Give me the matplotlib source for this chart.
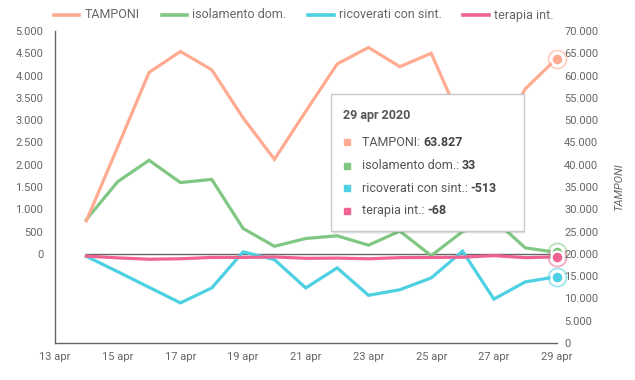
import matplotlib
matplotlib.use('Agg')
import matplotlib.pyplot as plt
from matplotlib.patches import Rectangle
from matplotlib.lines import Line2D
from matplotlib.ticker import FuncFormatter

plt.rcParams['font.family'] = ['Roboto', 'DejaVu Sans']

# ---- data ----
days = list(range(14, 30))
tick_days = [13, 15, 17, 19, 21, 23, 25, 27, 29]
tick_labels = ['13 apr', '15 apr', '17 apr', '19 apr', '21 apr', '23 apr', '25 apr', '27 apr', '29 apr']
tamponi = [27400, 44000, 60700, 65400, 61300, 50500, 41200, 52000, 62600, 66300,
           62000, 65000, 49000, 44000, 57000, 63827]
isolamento = [770, 1620, 2100, 1600, 1670, 570, 170, 345, 405, 195, 510, -40, 500, 770, 135, 33]
ricoverati = [-55, -400, -750, -1100, -765, 45, -130, -765, -315, -930, -805, -540, 60, -1015, -630, -513]
terapia = [-50, -90, -120, -110, -80, -80, -70, -100, -95, -110, -85, -80, -75, -40, -85, -68]
zero_line = [0] * len(days)

series_names = ['TAMPONI', 'isolamento dom.', 'ricoverati con sint.', 'terapia int.']
colors = ['#FFAB91', '#81C784', '#4DD0E1', '#F06292']
tooltip_title = '29 apr 2020'
tooltip_values = ['63.827', '33', '-513', '-68']

W, H = 635, 380
TXT = '#666666'

fig = plt.figure(figsize=(W / 100, H / 100), dpi=100)


def fx(x):
    return x / W


def fy(y):
    return 1 - y / H


ax = fig.add_axes([fx(55), fy(343), (556.6 - 55) / W, (343 - 31) / H])
ax2 = ax.twinx()

lw = 2.3
ax.plot(days, zero_line, color='#666666', lw=1.0, zorder=1)
ax.plot(days, isolamento, color=colors[1], lw=lw, zorder=3, solid_joinstyle='miter')
ax.plot(days, ricoverati, color=colors[2], lw=lw, zorder=3, solid_joinstyle='miter')
ax.plot(days, terapia, color=colors[3], lw=lw, zorder=4, solid_joinstyle='miter')
ax2.plot(days, tamponi, color=colors[0], lw=lw, zorder=3, solid_joinstyle='miter')

# highlight markers at last point
for a, vals, c in [(ax, isolamento, colors[1]), (ax, terapia, colors[3]),
                   (ax, ricoverati, colors[2]), (ax2, tamponi, colors[0])]:
    a.plot([days[-1]], [vals[-1]], 'o', ms=13, mfc='none', mec=c, mew=1.3, alpha=0.55,
           clip_on=False, zorder=6)
    a.plot([days[-1]], [vals[-1]], 'o', ms=8.5, mfc=c, mec='white', mew=1.6,
           clip_on=False, zorder=7)

ax.set_xlim(13, 29)
ax.set_ylim(-2000, 5000)
ax2.set_ylim(0, 70000)

fmt = FuncFormatter(lambda v, p: f'{int(v):,}'.replace(',', '.'))
ax.set_yticks(list(range(0, 5001, 500)))
ax.yaxis.set_major_formatter(fmt)
ax2.set_yticks(list(range(0, 70001, 5000)))
ax2.yaxis.set_major_formatter(fmt)
ax.set_xticks(tick_days)
ax.set_xticklabels(tick_labels)

ax.tick_params(axis='y', length=0, pad=8.5, labelsize=8, labelcolor=TXT)
ax.tick_params(axis='x', length=0, pad=6.5, labelsize=8, labelcolor=TXT)
ax2.tick_params(axis='y', length=0, pad=5.5, labelsize=8, labelcolor=TXT)

for s in ['top', 'right']:
    ax.spines[s].set_visible(False)
for s in ['left', 'bottom']:
    ax.spines[s].set_color('#666666')
    ax.spines[s].set_linewidth(1.0)
for s in ax2.spines.values():
    s.set_visible(False)

ax2.set_ylabel('TAMPONI', fontsize=8, color=TXT, style='italic')
ax2.yaxis.set_label_coords((614 - 55) / 501.6, 0.5)

# legend (placed item by item)
leg_handles = [(54, 79), (162, 187), (308, 334), (463, 489)]
leg_text_x = [85, 192, 339, 494]
leg_y = 15
for (h0, h1), tx, name, c in zip(leg_handles, leg_text_x, series_names, colors):
    fig.add_artist(Line2D([fx(h0), fx(h1)], [fy(leg_y), fy(leg_y)], color=c, lw=2.6,
                          transform=fig.transFigure))
    fig.text(fx(tx), fy(leg_y), name, fontsize=9, color=TXT, va='center', ha='left')

# tooltip
bx0, by0, bx1, by1 = 330.7, 94.3, 523.7, 230.7
for off, al in [(3, 0.05), (2, 0.07), (1, 0.09)]:
    fig.add_artist(Rectangle((fx(bx0 + off * 0.5), fy(by1 + off)), (bx1 - bx0) / W, (by1 - by0) / H,
                             transform=fig.transFigure, facecolor='black', edgecolor='none',
                             alpha=al, zorder=19))
fig.add_artist(Rectangle((fx(bx0), fy(by1)), (bx1 - bx0) / W, (by1 - by0) / H,
                         transform=fig.transFigure, facecolor='white', edgecolor='#c8c8c8',
                         lw=1.0, zorder=20))
fig.text(fx(343.3), fy(115), tooltip_title, fontsize=9, fontweight='bold', color='#555555',
         va='center', ha='left', zorder=21)
row_y = [142.3, 165.7, 188.3, 211]
for name, val, c, yy in zip(series_names, tooltip_values, colors, row_y):
    fig.add_artist(Line2D([fx(346.7)], [fy(yy)], marker='s', ms=4.2, color=c, lw=0,
                          transform=fig.transFigure, zorder=21))
    t = fig.text(fx(361.7), fy(yy), name + ': ', fontsize=9, color='#555555', va='center',
                 ha='left', zorder=21)
    fig.add_artist(matplotlib.text.Annotation(val, xy=(1, 0.5), xycoords=t, va='center',
                                              ha='left', fontsize=9, fontweight='bold',
                                              color='#444444', zorder=21))

fig.savefig('out.png', dpi=100)
